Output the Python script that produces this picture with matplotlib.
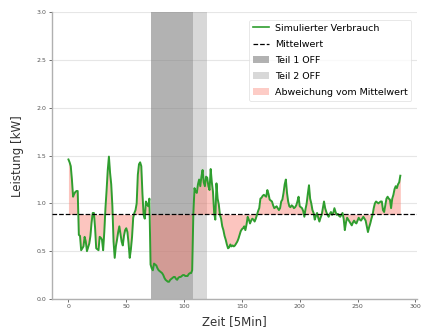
import numpy as np
import matplotlib
matplotlib.use("Agg")
import matplotlib.pyplot as plt
from matplotlib.patches import Patch
from matplotlib.lines import Line2D

# Simulated load profile, 5-minute steps over one day (kW)
verbrauch = [
    1.46, 1.43, 1.39, 1.25, 1.07, 1.10, 1.12, 1.13, 1.13, 0.67, 0.66, 0.51,
    0.53, 0.55, 0.65, 0.60, 0.50, 0.54, 0.58, 0.66, 0.80, 0.90, 0.90, 0.75,
    0.53, 0.52, 0.51, 0.65, 0.64, 0.62, 0.51, 0.70, 0.95, 1.14, 1.35, 1.49,
    1.32, 1.20, 0.97, 0.60, 0.43, 0.55, 0.62, 0.70, 0.76, 0.68, 0.60, 0.56,
    0.66, 0.72, 0.74, 0.70, 0.58, 0.43, 0.52, 0.65, 0.85, 0.90, 0.93, 1.00,
    1.30, 1.41, 1.43, 1.39, 1.10, 0.88, 0.84, 1.02, 0.99, 0.97, 1.05, 0.36,
    0.32, 0.30, 0.37, 0.36, 0.35, 0.32, 0.30, 0.29, 0.28, 0.27, 0.25, 0.22,
    0.20, 0.19, 0.18, 0.18, 0.20, 0.21, 0.22, 0.23, 0.23, 0.21, 0.20, 0.22,
    0.23, 0.23, 0.24, 0.25, 0.25, 0.24, 0.24, 0.24, 0.26, 0.27, 0.27, 0.30,
    0.89, 1.16, 1.12, 1.11, 1.20, 1.25, 1.18, 1.28, 1.35, 1.22, 1.18, 1.28,
    1.27, 1.18, 1.14, 1.36, 1.22, 1.12, 0.90, 0.83, 1.21, 1.05, 0.99, 0.88,
    0.84, 0.76, 0.72, 0.66, 0.62, 0.57, 0.53, 0.54, 0.57, 0.55, 0.56, 0.55,
    0.56, 0.58, 0.60, 0.63, 0.67, 0.71, 0.73, 0.74, 0.76, 0.72, 0.78, 0.86,
    0.83, 0.79, 0.82, 0.84, 0.83, 0.81, 0.84, 0.88, 0.92, 0.95, 1.05, 1.06,
    1.08, 1.09, 1.08, 1.07, 1.14, 1.10, 1.04, 1.03, 1.02, 0.98, 0.95, 0.96,
    0.97, 0.95, 0.93, 0.95, 1.02, 1.04, 1.11, 1.20, 1.25, 1.11, 1.02, 0.97,
    0.96, 0.98, 0.97, 0.95, 0.96, 0.98, 1.02, 1.07, 0.97, 0.96, 0.95, 0.92,
    0.86, 0.94, 1.00, 1.10, 1.19, 1.05, 1.00, 0.93, 0.90, 0.83, 0.87, 0.90,
    0.85, 0.81, 0.85, 0.88, 0.95, 1.02, 0.95, 0.91, 0.88, 0.86, 0.89, 0.91,
    0.88, 0.90, 0.95, 0.91, 0.88, 0.89, 0.87, 0.86, 0.88, 0.90, 0.84, 0.72,
    0.80, 0.85, 0.83, 0.81, 0.79, 0.77, 0.80, 0.82, 0.80, 0.79, 0.82, 0.85,
    0.83, 0.82, 0.84, 0.86, 0.84, 0.82, 0.76, 0.70, 0.75, 0.79, 0.84, 0.88,
    0.95, 1.00, 1.02, 1.01, 1.00, 1.01, 1.02, 1.02, 0.93, 0.91, 0.98, 1.05,
    1.07, 1.05, 1.04, 0.95, 1.05, 1.09, 1.15, 1.18, 1.16, 1.20, 1.22, 1.29,
]

# Reference level of the mean consumption (kW)
mittelwert = 0.885

# Switched-off intervals (in 5-minute steps)
teil1_off = (71, 108)
teil2_off = (108, 120)

zeit = np.arange(len(verbrauch))
werte = np.array(verbrauch)

fig = plt.figure(figsize=(4.25, 3.34), dpi=100)
ax = fig.add_axes([0.122, 0.105, 0.859, 0.858])

ax.axvspan(*teil1_off, color="gray", alpha=0.6, lw=0, zorder=1)
ax.axvspan(*teil2_off, color="gray", alpha=0.3, lw=0, zorder=1)
ax.fill_between(zeit, werte, mittelwert, color="salmon", alpha=0.45, lw=0, zorder=2)
ax.plot(zeit, werte, color="#2f9e2f", lw=1.4, zorder=3)
ax.axhline(mittelwert, color="black", ls="--", lw=0.9, zorder=4)

ax.set_ylim(0, 3.0)
ax.set_yticks([0.0, 0.5, 1.0, 1.5, 2.0, 2.5, 3.0])
ax.set_xticks([0, 50, 100, 150, 200, 250, 300])
ax.tick_params(labelsize=4.5, colors="#555555", length=2, width=0.6, pad=2)
ax.grid(axis="y", color="#e6e6e6", lw=0.8)
ax.set_axisbelow(True)
for s in ("top", "right"):
    ax.spines[s].set_visible(False)
for s in ("left", "bottom"):
    ax.spines[s].set_color("#b0b0b0")
    ax.spines[s].set_linewidth(1.0)

ax.set_xlabel("Zeit [5Min]", fontsize=8.5, color="#333333", labelpad=4)
ax.set_ylabel("Leistung [kW]", fontsize=8.5, color="#333333", labelpad=9)

handles = [
    Line2D([], [], color="#2f9e2f", lw=1.2),
    Line2D([], [], color="black", ls="--", lw=0.9),
    Patch(facecolor="gray", alpha=0.6),
    Patch(facecolor="gray", alpha=0.3),
    Patch(facecolor="salmon", alpha=0.4),
]
labels = ["Simulierter Verbrauch", "Mittelwert", "Teil 1 OFF", "Teil 2 OFF",
          "Abweichung vom Mittelwert"]
leg = ax.legend(handles, labels, loc="upper right", fontsize=6.8, frameon=True,
                handlelength=1.7, handletextpad=0.6, labelspacing=0.75,
                borderpad=0.4, bbox_to_anchor=(0.998, 0.99))
leg.get_frame().set_edgecolor("#dddddd")
leg.get_frame().set_linewidth(0.6)

fig.savefig("out.png", dpi=100)
